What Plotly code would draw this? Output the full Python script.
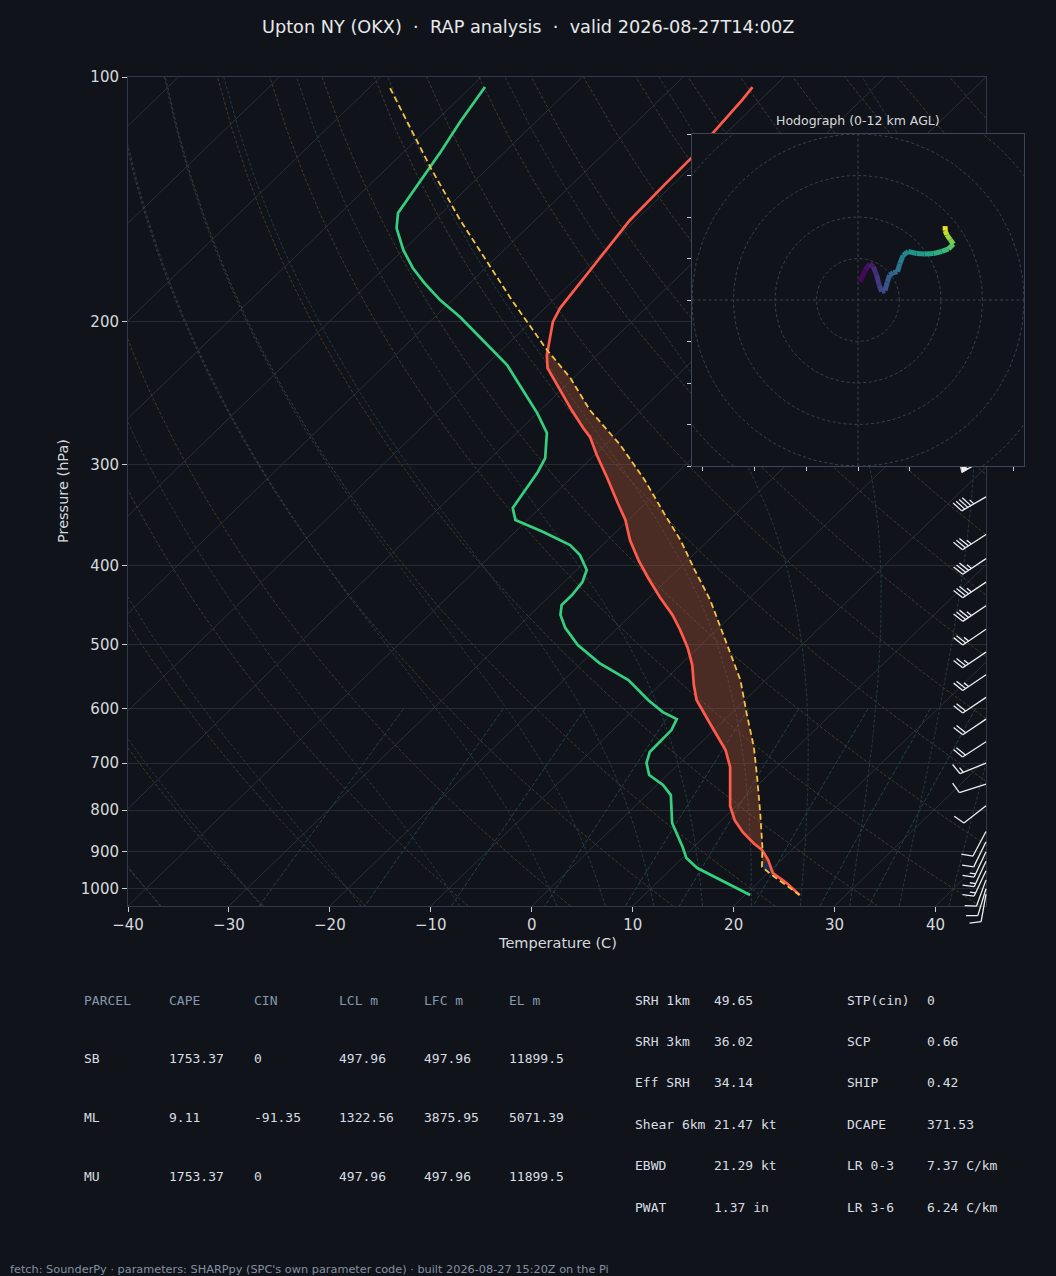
import numpy as np
import plotly.graph_objects as go
from plotly.colors import sample_colorscale

W, H = 1056, 1276
BG = "#10141a"
FG = "#d6d9de"
SPINE = "#2f3947"
GRID = "#252c36"

# ---- sounding (hPa / degC) ----
TEMP_P = [102.9, 106.7, 117.5, 125.5, 135.9, 150.1, 167.1, 182.9, 192.6, 200.3, 210.9,
          220.0, 228.3, 243.0, 257.2, 270.7, 277.7, 292.2, 311.9, 334.8, 351.3, 371.8, 393.6,
          414.1, 437.1, 459.9, 479.9, 505.1, 530.2, 561.0, 585.3, 625.2, 674.5, 707.9, 790.7,
          823.1, 851.2, 878.3, 896.0, 921.5, 956.2, 983.8, 1017.6]
TEMP_C = [-62.1, -61.8, -61.3, -60.9, -60.8, -60.6, -59.7, -58.9, -58.5, -57.8, -56.3,
          -55.0, -53.6, -50.1, -46.9, -43.9, -42.3, -39.8, -36.4, -32.8, -30.3, -27.8, -24.9,
          -22.1, -19.0, -15.9, -13.6, -11.0, -8.8, -6.6, -4.8, -1.1, 3.2, 5.4, 9.4,
          11.3, 13.3, 15.5, 17.1, 18.7, 20.5, 22.9, 25.4]

DWPT_P = [102.9, 113.6, 124.1, 147.1, 153.5, 163.3, 171.9, 179.4, 188.3, 197.5, 203.2, 226.4,
          245.1, 259.4, 274.5, 294.7, 306.6, 325.3, 339.5, 351.3, 363.5, 377.3, 388.1, 404.9,
          418.9, 434.6, 447.2, 459.9, 477.1, 500.8, 527.2, 553.1, 585.3, 605.8, 617.9, 637.5,
          678.4, 699.8, 724.1, 745.0, 766.5, 829.9, 888.3, 916.5, 942.8, 1017.6]
DWPT_C = [-88.6, -87.5, -86.3, -84.3, -82.9, -80.0, -77.2, -74.5, -71.2, -67.5, -65.5, -57.9,
          -53.3, -50.0, -47.0, -44.6, -43.9, -43.2, -42.7, -41.2, -37.2, -33.2, -31.2, -29.0,
          -28.2, -27.9, -27.9, -27.0, -25.2, -22.2, -18.2, -13.6, -9.6, -6.9, -4.8, -4.2,
          -4.1, -3.3, -1.8, 0.6, 2.4, 5.4, 8.9, 10.4, 12.5, 20.5]

PRCL_P = [103.2, 129.4, 150.1, 171.9, 188.3, 216.9, 234.9, 257.2, 284.0, 313.6, 346.3, 371.8,
          404.9, 440.8, 479.9, 515.2, 553.1, 607.5, 668.9, 728.3, 806.6, 888.3, 939.9, 961.6, 1017.6]
PRCL_C = [-97.9, -85.7, -77.4, -69.4, -64.1, -55.5, -50.3, -45.1, -38.5, -32.5, -26.9, -22.8,
          -18.3, -13.7, -9.5, -6.0, -2.5, 1.5, 5.7, 9.1, 13.1, 16.8, 18.8, 20.6, 25.4]

EL_P, LFC_P = 216.0, 940.0      # positive area bounds
CIN_TOP, CIN_BOT = 921.0, 962.0  # small negative area near the LCL

# wind barbs (hPa, kt, deg)
BARB_P = [295, 329, 366, 392, 419, 448, 479, 511, 545, 581, 618, 659, 700, 743, 790,
          850, 875, 900, 925, 950, 975, 1000, 1015]
BARB_SPD = [55, 45, 35, 35, 35, 35, 25, 25, 25, 20, 20, 20, 15, 10, 10,
            10, 10, 15, 15, 15, 10, 10, 10]
BARB_DIR = [240, 240, 237, 236, 236, 236, 236, 236, 236, 236, 236, 237, 248, 252, 232,
            208, 206, 205, 205, 205, 200, 197, 190]

# hodograph (kt) and height (km AGL)
HODO_U = [0.5, 1.7, 2.9, 3.7, 4.5, 5.1, 5.7, 6.5, 7.1, 7.6, 8.5, 9.5, 10.1, 10.9, 12.1,
          14.1, 16.1, 18.2, 20.2, 21.8, 23.0, 22.2, 21.4, 21.0, 21.0]
HODO_V = [4.4, 7.2, 8.7, 8.0, 6.0, 3.6, 2.0, 2.3, 4.4, 6.0, 6.6, 6.8, 8.8, 10.8, 11.7,
          11.2, 11.1, 11.2, 11.7, 12.3, 13.5, 14.6, 15.7, 16.7, 17.8]
HODO_Z = [0.0, 0.4, 0.7, 1.2, 1.7, 2.2, 2.5, 2.9, 3.2, 3.6, 4.0, 4.3, 4.8, 5.3, 5.8,
          6.2, 6.7, 7.2, 7.8, 8.4, 9.1, 9.8, 10.6, 11.3, 12.0]
HODO_RINGS = [10, 20, 30, 40, 50]

# parameter tables
PARCELS = ["SB", "ML", "MU"]
CAPE = [1753.37, 9.11, 1753.37]
CIN = [0, -91.35, 0]
LCL = [497.96, 1322.56, 497.96]
LFC = [497.96, 3875.95, 497.96]
EL = [11899.5, 5071.39, 11899.5]
TABLE_HEAD = ["PARCEL", "CAPE", "CIN", "LCL m", "LFC m", "EL m"]
KIN_NAMES = ["SRH 1km", "SRH 3km", "Eff SRH", "Shear 6km", "EBWD", "PWAT"]
KIN_VALS = ["49.65", "36.02", "34.14", "21.47 kt", "21.29 kt", "1.37 in"]
THERMO_NAMES = ["STP(cin)", "SCP", "SHIP", "DCAPE", "LR 0-3", "LR 3-6"]
THERMO_VALS = ["0", "0.66", "0.42", "371.53", "7.37 C/km", "6.24 C/km"]

T_TICKS = [-40, -30, -20, -10, 0, 10, 20, 30, 40]
P_TICKS = [100, 200, 300, 400, 500, 600, 700, 800, 900, 1000]

# ---- geometry ----
X_RANGE = [-40, 45]
P_BOT, P_TOP = 1050.0, 100.0
PLOT_L, PLOT_R, PLOT_T, PLOT_B = 128, 986, 77, 906
HODO_L, HODO_R, HODO_T, HODO_B = 692, 1024, 134, 466
HODO_LIM = 40
LOG_SPAN = np.log10(P_BOT) - np.log10(P_TOP)


def skew(t, p):
    """x position of temperature t at pressure p (45 deg skew, as in MetPy)."""
    yax = (np.log10(P_BOT) - np.log10(np.asarray(p, float))) / LOG_SPAN
    return np.asarray(t, float) + (X_RANGE[1] - X_RANGE[0]) * yax


# ---- thermodynamic helper lines ----
RD, CP, LV, EPS = 287.04, 1005.7, 2.501e6, 0.622


def _dtdp(p, tk):
    es = 6.112 * np.exp(17.67 * (tk - 273.15) / (tk - 29.65))
    rs = EPS * es / (p - es)
    return (RD * tk + LV * rs) / (CP + LV * LV * rs * EPS / (RD * tk * tk)) / p


def moist_adiabat(t0, plevs, p0=1000.0):
    plevs = np.asarray(plevs, float)
    temps = np.empty_like(plevs)
    for branch in (plevs <= p0, plevs > p0):
        idx = np.where(branch)[0]
        order = idx[np.argsort(np.abs(plevs[idx] - p0))]
        p, tk = p0, t0 + 273.15
        for i in order:
            n = max(1, int(abs(plevs[i] - p) / 5) + 1)
            h = (plevs[i] - p) / n
            for _ in range(n):
                k1 = _dtdp(p, tk)
                k2 = _dtdp(p + h / 2, tk + h * k1 / 2)
                k3 = _dtdp(p + h / 2, tk + h * k2 / 2)
                k4 = _dtdp(p + h, tk + h * k3)
                tk += h * (k1 + 2 * k2 + 2 * k3 + k4) / 6
                p += h
            temps[i] = tk - 273.15
    return temps


def mixing_dewpoint(w_gkg, p):
    w = w_gkg / 1000.0
    a = np.log(w * p / (EPS + w) / 6.112)
    return 243.5 * a / (17.67 - a)


def joined(curves):
    xs, ys = [], []
    for x, y in curves:
        xs += list(x) + [None]
        ys += list(y) + [None]
    return xs, ys


fig = go.Figure()


def bg_family(curves, color, dash, width=0.9):
    xs, ys = joined(curves)
    fig.add_trace(go.Scatter(x=xs, y=ys, mode="lines", xaxis="x", yaxis="y",
                             line=dict(color=color, width=width, dash=dash),
                             hoverinfo="skip", showlegend=False))


plev = np.linspace(P_BOT, P_TOP, 60)
bg_family([(skew([t, t], [P_BOT, P_TOP]), [P_BOT, P_TOP]) for t in range(-140, 50, 10)],
          "#2b323c", "solid")
bg_family([(skew((t0 + 273.15) * (plev / 1000.0) ** 0.2857 - 273.15, plev), plev)
           for t0 in range(-40, 250, 10)], "#4a3d2c", "3px,2px")
moist_t0 = list(range(-40, 0, 10)) + list(range(0, 46, 5))
bg_family([(skew(moist_adiabat(t0, plev), plev), plev) for t0 in moist_t0],
          "#2a3b4a", "3px,2px")
pmix = np.linspace(600, P_BOT, 20)
bg_family([(skew(mixing_dewpoint(w, pmix), pmix), pmix)
           for w in [0.4, 1, 2, 4, 7, 10, 16, 24, 32]], "#26454f", "4px,2px")

# ---- profiles ----
tp, tt = np.array(TEMP_P), np.array(TEMP_C)
dp, dt = np.array(DWPT_P), np.array(DWPT_C)
pp, pt = np.array(PRCL_P), np.array(PRCL_C)

m_par = (pp >= EL_P) & (pp <= LFC_P)
m_env = (tp >= EL_P) & (tp <= LFC_P)
cape_p = np.concatenate([pp[m_par], tp[m_env][::-1]])
cape_t = np.concatenate([pt[m_par], tt[m_env][::-1]])
fig.add_trace(go.Scatter(x=skew(cape_t, cape_p), y=cape_p, mode="lines", fill="toself",
                         fillcolor="rgba(170,85,55,0.38)", line=dict(width=0),
                         hoverinfo="skip", showlegend=False))
c_par = (pp >= LFC_P - 1) & (pp <= CIN_BOT)
c_env = (tp >= CIN_TOP) & (tp <= CIN_BOT)
cin_p = np.concatenate([pp[c_par], tp[c_env][::-1]])
cin_t = np.concatenate([pt[c_par], tt[c_env][::-1]])
fig.add_trace(go.Scatter(x=skew(cin_t, cin_p), y=cin_p, mode="lines", fill="toself",
                         fillcolor="rgba(45,85,170,0.40)", line=dict(width=0),
                         hoverinfo="skip", showlegend=False))

fig.add_trace(go.Scatter(x=skew(dt, dp), y=dp, mode="lines", name="Dewpoint",
                         line=dict(color="#35d07f", width=2.7), showlegend=False))
fig.add_trace(go.Scatter(x=skew(tt, tp), y=tp, mode="lines", name="Temperature",
                         line=dict(color="#ff5a4a", width=2.7), showlegend=False))
fig.add_trace(go.Scatter(x=skew(pt, pp), y=pp, mode="lines", name="Parcel",
                         line=dict(color="#f5c243", width=1.8, dash="6px,3.5px"),
                         showlegend=False))


# ---- wind barbs, drawn in pixel space on a full-page overlay ----
def barb(x0, y0, spd, wdir, length=28.0):
    r = np.radians(wdir)
    s = (np.sin(r), -np.cos(r))
    n = (np.cos(r), np.sin(r))
    hgt, wid, sp = 0.4 * length, 0.25 * length, 0.125 * length

    def at(a, b):
        return (x0 + b * s[0] + a * n[0], y0 + b * s[1] + a * n[1])

    lines, flags = [[at(0, 0), at(0, length)]], []
    rounded = 5 * int(round(spd / 5.0))
    nflag, rem = divmod(rounded, 50)
    nbarb, rem = divmod(rem, 10)
    off = length
    for _ in range(nflag):
        if off != length:
            off += sp / 2
        flags.append([at(0, off), at(hgt, off - wid / 2), at(0, off - wid), at(0, off)])
        off -= wid + sp
    for _ in range(nbarb):
        lines.append([at(0, off), at(hgt, off + wid / 2)])
        off -= sp
    if rem >= 5:
        if off == length:
            off -= 1.5 * sp
        lines.append([at(0, off), at(hgt / 2, off + wid / 4)])
    return lines, flags


bl, bf = [], []
for p, spd, wd in zip(BARB_P, BARB_SPD, BARB_DIR):
    y_px = PLOT_T + (np.log10(p) - np.log10(P_TOP)) / LOG_SPAN * (PLOT_B - PLOT_T)
    ln, fl = barb(PLOT_R, y_px, spd, wd)
    bl += ln
    bf += fl
bx, by = joined([([q[0] for q in seg], [q[1] for q in seg]) for seg in bl])
fig.add_trace(go.Scatter(x=bx, y=by, mode="lines", xaxis="x2", yaxis="y2",
                         line=dict(color="#eceef1", width=1.3), hoverinfo="skip",
                         showlegend=False))
if bf:
    fx, fy = joined([([q[0] for q in seg], [q[1] for q in seg]) for seg in bf])
    fig.add_trace(go.Scatter(x=fx, y=fy, mode="lines", xaxis="x2", yaxis="y2", fill="toself",
                             fillcolor="#eceef1", line=dict(color="#eceef1", width=0.8),
                             hoverinfo="skip", showlegend=False))

# ---- hodograph inset ----
box = [-HODO_LIM, HODO_LIM, HODO_LIM, -HODO_LIM, -HODO_LIM]
fig.add_trace(go.Scatter(x=box, y=box[1:] + box[:1], mode="lines", xaxis="x3", yaxis="y3",
                         fill="toself", fillcolor=BG, line=dict(width=0),
                         hoverinfo="skip", showlegend=False))
ang = np.linspace(0, 2 * np.pi, 181)
rx, ry = joined([(r * np.cos(ang), r * np.sin(ang)) for r in HODO_RINGS])
cx, cy = joined([([-HODO_LIM, HODO_LIM], [0, 0]), ([0, 0], [-HODO_LIM, HODO_LIM])])
fig.add_trace(go.Scatter(x=rx + cx, y=ry + cy, mode="lines", xaxis="x3", yaxis="y3",
                         line=dict(color="#3b4553", width=0.9, dash="3px,2.5px"),
                         hoverinfo="skip", showlegend=False))
zmax = max(HODO_Z)
for i in range(len(HODO_U) - 1):
    col = sample_colorscale("Viridis", [(HODO_Z[i] + HODO_Z[i + 1]) / 2 / zmax])[0]
    fig.add_trace(go.Scatter(x=HODO_U[i:i + 2], y=HODO_V[i:i + 2], mode="lines",
                             xaxis="x3", yaxis="y3", line=dict(color=col, width=5),
                             hoverinfo="skip", showlegend=False))


def px(x):
    return x / W


def py(y):
    return 1 - y / H


ann = []


def text(x, y, s, size, color=FG, family="DejaVu Sans", xanchor="left", angle=0):
    ann.append(dict(x=px(x), y=py(y), xref="paper", yref="paper", text=s, showarrow=False,
                    xanchor=xanchor, yanchor="middle", textangle=angle, borderpad=0,
                    font=dict(size=size, color=color, family=family)))


NB = "\u00a0"
text(528, 27, f"Upton NY (OKX){NB}{NB}·{NB}{NB}RAP analysis{NB}{NB}·{NB}{NB}valid 2026-08-27T14:00Z",
     17.7, "#e6e8eb", xanchor="center")
text(557, 943, "Temperature (C)", 14.5, xanchor="center")
text(63, 491, "Pressure (hPa)", 14.5, xanchor="center", angle=-90)
text(858, 120, "Hodograph (0-12 km AGL)", 12.5, xanchor="center")

MONO = "DejaVu Sans Mono"
for j, h in enumerate(TABLE_HEAD):
    text(83 + 85 * j, 1000, h, 13, "#8797ad", MONO)
for i, name in enumerate(PARCELS):
    row = [name] + [f"{v[i]:g}" for v in (CAPE, CIN, LCL, LFC, EL)]
    for j, s in enumerate(row):
        text(83 + 85 * j, 1058.7 + 58.7 * i, s, 13, "#d9dde3", MONO)
for i in range(len(KIN_NAMES)):
    y = 1000 + 41.45 * i
    text(634, y, KIN_NAMES[i], 13, "#d9dde3", MONO)
    text(713, y, KIN_VALS[i], 13, "#d9dde3", MONO)
    text(846, y, THERMO_NAMES[i], 13, "#d9dde3", MONO)
    text(926, y, THERMO_VALS[i], 13, "#d9dde3", MONO)

text(9, 1269, "fetch: SounderPy · parameters: SHARPpy (SPC's own parameter code) · "
     "built 2026-08-27 15:20Z on the Pi", 11.3, "#8390a3")

axis_common = dict(showline=True, mirror=True, linecolor=SPINE, linewidth=1, zeroline=False,
                   ticks="outside", ticklen=5, tickcolor="#c9cdd3", automargin=False,
                   tickfont=dict(size=15, color=FG, family="DejaVu Sans"))
hodo_common = dict(range=[-HODO_LIM, HODO_LIM], showline=True, mirror=True, linecolor="#3a4555",
                   zeroline=False, showgrid=False, ticks="outside", ticklen=4,
                   tickcolor="#c9cdd3", showticklabels=False, automargin=False)

fig.update_layout(
    width=W, height=H, margin=dict(l=0, r=0, t=0, b=0, pad=0), autosize=False,
    paper_bgcolor=BG, plot_bgcolor="rgba(0,0,0,0)", showlegend=False,
    font=dict(family="DejaVu Sans", color=FG),
    annotations=ann,
    xaxis=dict(domain=[px(PLOT_L), px(PLOT_R)], range=X_RANGE, anchor="y",
               tickvals=T_TICKS, ticktext=[str(t).replace("-", "\u2212") for t in T_TICKS],
               showgrid=False, **axis_common),
    yaxis=dict(domain=[py(PLOT_B), py(PLOT_T)], type="log",
               range=[np.log10(P_BOT), np.log10(P_TOP)], anchor="x",
               tickvals=P_TICKS, ticktext=[str(p) for p in P_TICKS],
               showgrid=True, gridcolor=GRID, gridwidth=1, **axis_common),
    xaxis2=dict(domain=[0, 1], range=[0, W], anchor="y2", visible=False, fixedrange=True,
                automargin=False),
    yaxis2=dict(domain=[0, 1], range=[H, 0], anchor="x2", visible=False, fixedrange=True,
                automargin=False),
    xaxis3=dict(domain=[px(HODO_L), px(HODO_R)], anchor="y3",
                tickvals=[-37.5, -25, -12.5, 0, 12.5, 25, 37.5], **hodo_common),
    yaxis3=dict(domain=[py(HODO_B), py(HODO_T)], anchor="x3",
                tickvals=list(range(-HODO_LIM, HODO_LIM + 1, 10)), **hodo_common),
)

fig.write_html("out.html", config={"displayModeBar": False},
               post_script="document.body.style.margin='0';"
                           "document.body.style.background='#10141a';")
